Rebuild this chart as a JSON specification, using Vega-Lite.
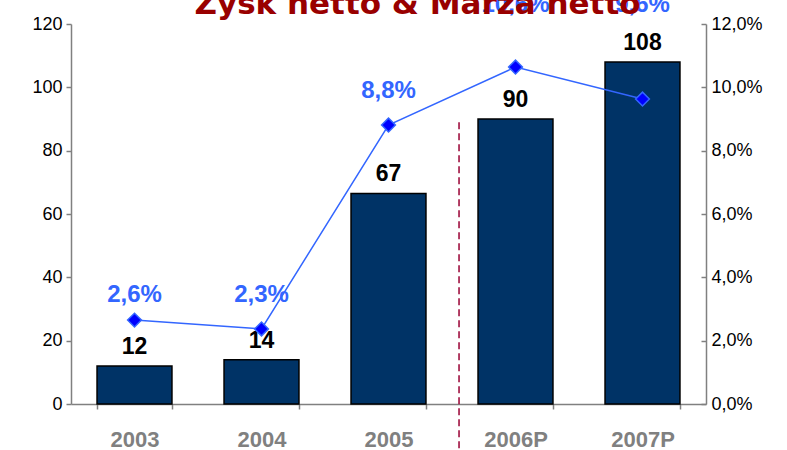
{
  "$schema": "https://vega.github.io/schema/vega-lite/v6.json",
  "width": 635,
  "height": 380,
  "autosize": "none",
  "padding": {"left": 71, "top": 24, "right": 81, "bottom": 46},
  "background": "white",
  "title": {
    "text": "Zysk netto & Marża netto",
    "font": "DejaVu Sans",
    "fontSize": 31,
    "fontWeight": "bold",
    "color": "#990000",
    "anchor": "middle",
    "baseline": "alphabetic",
    "frame": "group",
    "dx": 29,
    "offset": -52
  },
  "data": {
    "values": [
      {"year": "2003", "zysk": 12, "marza": 2.65, "marzaLabel": "2,6%"},
      {"year": "2004", "zysk": 14, "marza": 2.37, "marzaLabel": "2,3%"},
      {"year": "2005", "zysk": 66.5, "marza": 8.81, "marzaLabel": "8,8%"},
      {"year": "2006P", "zysk": 90, "marza": 10.64, "marzaLabel": "10,6%"},
      {"year": "2007P", "zysk": 108, "marza": 9.63, "marzaLabel": "9,6%"}
    ]
  },
  "encoding": {
    "x": {
      "field": "year",
      "type": "nominal",
      "sort": null,
      "scale": {"paddingInner": 0.41, "paddingOuter": 0.205},
      "axis": {
        "title": null,
        "labelAngle": 0,
        "labelFont": "Liberation Sans",
        "labelFontSize": 22,
        "labelFontWeight": "bold",
        "labelColor": "#808080",
        "labelPadding": 20,
        "tickBand": "extent",
        "tickSize": 5,
        "tickColor": "#808080",
        "domainColor": "#808080",
        "domainWidth": 1.5,
        "tickWidth": 1.5
      }
    }
  },
  "layer": [
    {
      "encoding": {
        "y": {
          "field": "zysk",
          "type": "quantitative",
          "scale": {"domain": [0, 120], "nice": false},
          "axis": {
            "title": null,
            "values": [0, 20, 40, 60, 80, 100, 120],
            "grid": false,
            "labelFont": "Liberation Sans",
            "labelFontSize": 18,
            "labelColor": "#000000",
            "labelPadding": 4,
            "tickSize": 5,
            "tickColor": "#808080",
            "domainColor": "#808080",
            "domainWidth": 1.5,
            "tickWidth": 1.5
          }
        }
      },
      "layer": [
        {
          "mark": {"type": "bar", "fill": "#003366", "stroke": "#000000", "strokeWidth": 1.5}
        },
        {
          "mark": {"type": "text", "dy": -19, "font": "Liberation Sans", "fontSize": 23, "fontWeight": "bold", "color": "#000000"},
          "encoding": {"text": {"field": "zysk", "type": "quantitative", "format": ".0f"}}
        },
        {
          "data": {"values": [{"split": "2006P", "top": 89, "bottom": -15}]},
          "mark": {"type": "rule", "color": "#990033", "strokeWidth": 1.5, "strokeDash": [7, 4], "xOffset": -19},
          "encoding": {
            "x": {"field": "split", "type": "nominal", "bandPosition": 0},
            "y": {"field": "top", "type": "quantitative"},
            "y2": {"field": "bottom"}
          }
        }
      ]
    },
    {
      "encoding": {
        "y": {
          "field": "marza",
          "type": "quantitative",
          "scale": {"domain": [0, 12], "nice": false},
          "axis": {
            "orient": "right",
            "title": null,
            "values": [0, 2, 4, 6, 8, 10, 12],
            "labelExpr": "replace(format(datum.value, '.1f'), '.', ',') + '%'",
            "grid": false,
            "labelFont": "Liberation Sans",
            "labelFontSize": 18,
            "labelColor": "#000000",
            "labelPadding": 10,
            "tickSize": -5,
            "tickColor": "#808080",
            "domainColor": "#808080",
            "domainWidth": 1.5,
            "tickWidth": 1.5
          }
        }
      },
      "layer": [
        {
          "mark": {"type": "line", "color": "#3366FF", "strokeWidth": 1.5}
        },
        {
          "mark": {"type": "point", "shape": "diamond", "filled": true, "color": "#0000FF", "size": 190, "opacity": 1, "stroke": "#3366FF", "strokeWidth": 1.5}
        },
        {
          "mark": {
            "type": "text",
            "font": "Liberation Sans",
            "fontSize": 24,
            "fontWeight": "bold",
            "color": "#3366FF",
            "dy": {"expr": "datum.year == '2006P' ? -62 : datum.year == '2007P' ? -94 : datum.year == '2003' ? -25 : -34"}
          },
          "encoding": {"text": {"field": "marzaLabel", "type": "nominal"}}
        }
      ]
    }
  ],
  "resolve": {"scale": {"y": "independent"}},
  "config": {"view": {"stroke": null}}
}
